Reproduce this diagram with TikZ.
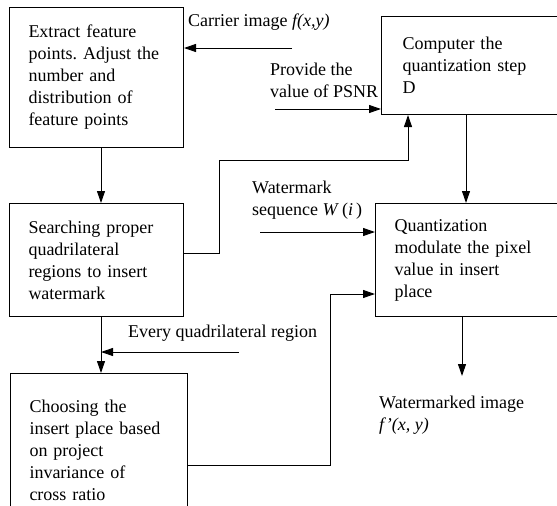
\documentclass[tikz,border=0pt]{standalone}
\usepackage{fontspec}
\setmainfont{Liberation Serif}
\usetikzlibrary{arrows.meta}
\frenchspacing

\begin{document}
\begin{tikzpicture}[
  x=1pt, y=-1pt,
  every node/.style={font=\fontsize{18}{22}\selectfont},
  stepbox/.style={draw, line width=1pt, anchor=north west, align=left,
    inner xsep=19pt, inner ysep=0pt},
  tag/.style={anchor=base west, align=left, inner sep=0pt},
  arrow/.style={-{Triangle[length=12pt, width=8pt]}, line width=1pt},
]
  \useasboundingbox (0,0) rectangle (557,506);

  % Nodes -- left column
  \node (extract) [stepbox, text width=136pt, minimum height=140pt] at (9,7)
    {Extract feature\\points. Adjust the\\number and\\distribution of\\feature points};
  \node (search) [stepbox, text width=136pt, minimum height=113pt] at (9,203)
    {Searching proper\\quadrilateral\\regions to insert\\watermark};
  \node (choose) [stepbox, text width=139pt, minimum height=154pt] at (10,373)
    {Choosing the\\insert place based\\on project\\invariance of\\cross ratio};

  % Nodes -- right column
  \node (step) [stepbox, inner xsep=21pt, text width=134pt, minimum height=98pt] at (381,16)
    {Computer the\\quantization step\\D};
  \node (quant) [stepbox, text width=144pt, minimum height=113pt] at (375,203)
    {Quantization\\modulate the pixel\\value in insert\\place};

  % Labels (base = last line)
  \node (carrier) [tag] at (188,27) {Carrier image \textit{f(x,y)}};
  \node (psnr) [tag] at (270,97) {Provide the\\value of PSNR};
  \node (wseq) [tag] at (252,215) {Watermark\\sequence \textit{W}\,(\textit{i}\,)};
  \node (every) [tag] at (128,337) {Every quadrilateral region};
  \node (result) [tag] at (379,430) {Watermarked image\\\textit{f'(x, y)}};

  % Free ends and bends
  \coordinate (carrierin) at (292,48);
  \coordinate (psnrin) at (275,109);
  \coordinate (wseqin) at (260,232);
  \coordinate (everyin) at (239,352);
  \coordinate (leftx) at (101,0);
  \coordinate (midx) at (466,0);
  \coordinate (outx) at (462,0);
  \coordinate (outend) at (462,376);
  \coordinate (upbend) at (219,160);
  \coordinate (upx) at (408,0);
  \coordinate (loopx) at (330,0);
  \coordinate (loopin) at (330,294);
  \coordinate (merge) at (101,352);

  % Inputs
  \draw[arrow] (carrierin) -- (carrierin -| extract.east);
  \draw[arrow] (psnrin) -- (psnrin -| step.west);
  \draw[arrow] (wseqin) -- (wseqin -| quant.west);
  \draw[arrow] (everyin) -- (merge);

  % Main flow
  \draw[arrow] (extract.south -| leftx) -- (search.north -| leftx);
  \draw[arrow] (search.south -| leftx) -- (choose.north -| leftx);
  \draw[arrow] (search.east |- 0,253) -- (upbend |- 0,253) -- (upbend)
    -- (upbend -| upx) -- (step.south -| upx);
  \draw[arrow] (step.south -| midx) -- (quant.north -| midx);
  \draw[arrow] (choose.east |- 0,465) -- (loopx |- 0,465) -- (loopin)
    -- (loopin -| quant.west);
  \draw[arrow] (quant.south -| outx) -- (outend);

\end{tikzpicture}
\end{document}
